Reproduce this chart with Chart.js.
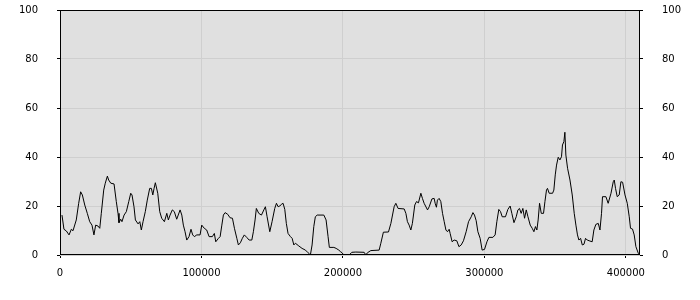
<!DOCTYPE html>
<html>
<head>
<meta charset="utf-8">
<script src="https://cdn.jsdelivr.net/npm/chart.js@4/dist/chart.umd.min.js"></script>
<style>
html,body{margin:0;padding:0;background:#fff;}
#wrap{width:700px;height:300px;}
</style>
</head>
<body>
<div id="wrap"><canvas id="c" width="700" height="300"></canvas></div>
<script>
const positions = [
  1400,2800,4500,6400,8000,9200,11500,13200,14600,15800,
  17500,19300,21000,22600,24000,25200,26900,28100,29200,30900,
  32000,33500,34400,35900,38200,39800,41000,41700,42900,43800,
  45300,46900,48600,50000,50900,52300,53300,55200,56400,57500,
  58700,60300,61700,63400,64600,65600,66500,67400,
  69100,70500,71900,73800,75500,76600,77800,79400,80800,82500,
  84900,86100,87200,88400,89600,91200,92600,93800,95000,96700,
  99000,100200,102000,103700,105400,107700,109100,110100,112000,113200,
  114400,115500,116700,118600,120200,121900,123300,125000,126100,127500,
  128900,130300,132000,133700,135600,136700,137900,
  138800,140500,142400,144100,145200,146400,148300,149900,151800,153000,
  154200,155400,156500,157700,158900,160000,161200,162900,164100,165300,
  166400,168800,171100,173500,175400,177000,178200,179400,180500,181800,
  186500,188100,189500,190400,193600,195200,197100,198200,199400,200600,
  203000,204400,
  206300,209100,215000,216200,217300,219700,225600,226800,228600,232200,
  233900,236200,237400,239000,243300,244500,245600,246800,248000,249100,
  250800,252000,253400,255100,256200,257400,259800,261000,262900,264500,
  265200,266100,266800,268000,269200,270400,271600,272800,273900,275100,
  275800,277200,278600,280500,282000,283600,285200,287100,288800,290700,
  291900,293000,294200,295400,297000,298400,300100,301800,303200,306000,
  307600,308800,310200,311400,312600,314900,316600,318200,319400,320900,
  322500,323700,324800,326000,327200,328400,329600,330800,332400,333800,
  335000,336100,337100,338000,339000,340200,341800,
  342800,343900,344600,345800,348200,349100,350100,351000,352200,353400,
  354500,355200,356200,356900,357600,358800,360500,362100,363500,364700,
  365800,366800,368000,369200,370400,371500,372700,374600,376200,377400,
  378800,380500,381700,382800,383500,385900,387500,389500,391100,391800,
  392700,393900,395300,396500,397700,399400,401000,402400,403300,404700,
  405900,407100,408800,409500
];
const values = [
  16.3,10.5,9.8,8.2,10.5,9.9,14.3,21.1,25.8,24.5,
  20.4,17,13.6,12.2,8.2,12.2,11.8,10.9,17,26.5,
  29.3,32.2,30.6,29.3,29,21.8,17,13.2,14.6,13.6,
  16.3,17.7,21.8,25.2,24.5,19.7,14.3,12.7,13.6,10.2,
  13.6,17.7,22.4,27.2,27.2,24.5,27.2,29.5,
  25.2,17.7,15,13.6,17,14.3,16.3,18.4,17.7,14.6,
  18.4,16.3,12.2,9.5,6.1,7.5,10.5,8.2,7.5,8.2,
  8.2,12.2,10.9,10.2,7.5,7.5,8.8,5.4,6.8,7.5,
  12.2,16.3,17.3,16.6,15.2,15,10.9,6.8,4.1,5.0,
  6.8,8.2,7.2,6.1,6.1,9.5,14.3,
  19,17,16.3,18.4,19.7,15.6,9.5,13.6,19,21.1,
  19.7,20,20.7,21.1,18.6,12.9,8.8,7.5,6.8,4.1,
  4.8,3.7,2.7,2.0,0.9,0,4.1,11.6,15.6,16.3,
  16.3,14.3,7.5,3.1,3.1,2.7,2.0,1.4,0.9,0,
  0,0,
  1.1,1.2,1.1,0,0.9,1.8,2.0,4.8,9.3,9.4,
  12.9,19.7,21.1,19,18.8,17,13.6,12.2,10.2,12.9,
  20.4,21.8,21.3,25.2,23.1,21.1,18.4,19.7,22.9,23.1,
  21.1,19.5,22.4,23.1,21.8,17,13.6,10.2,9.5,10.5,
  8.8,5.4,6.1,5.8,3.4,4.1,5.8,9.5,13.6,15.6,
  17.3,16.3,14,9.5,6.8,2.0,2.3,5.4,7.2,7.2,
  8.2,13.6,18.6,17.7,15.6,15.6,18.6,20,17,13.2,
  15.6,18.4,19,17,19,15,18.4,15.6,12.2,10.9,
  9.5,11.6,10.2,14.3,21.1,17,17,
  21.8,26.5,27.2,25.2,25.2,26.5,32.7,36.7,39.9,38.8,
  40.1,44.9,46.3,50.1,40.8,35.4,30.6,24.5,17,12.2,
  8.2,6.1,6.8,4.1,4.4,6.8,6.1,5.7,5.4,10.2,
  12.5,12.9,10.2,17,23.8,23.8,21.1,25.2,29.9,30.6,
  27.2,23.8,24.5,29.9,29.7,24.5,21.1,15.6,10.9,10.6,
  8.2,3.4,0.7,0
];
const xTicks = [0, 100000, 200000, 300000, 400000];
const yTicks = [0, 20, 40, 60, 80, 100];

const points = positions.map((x, i) => ({x: x, y: values[i]}));

const plotBg = {
  id: 'plotBg',
  beforeDraw(chart) {
    const {ctx, chartArea: a} = chart;
    ctx.save();
    ctx.fillStyle = '#e0e0e0';
    ctx.fillRect(a.left, a.top, a.right - a.left, a.bottom - a.top);
    ctx.restore();
  },
  afterDraw(chart) {
    const {ctx, chartArea: a} = chart;
    ctx.save();
    ctx.strokeStyle = '#000';
    ctx.lineWidth = 1;
    ctx.strokeRect(Math.round(a.left) + 0.5, Math.round(a.top) + 0.5, Math.round(a.right - a.left) - 1, Math.round(a.bottom - a.top) - 1);
    ctx.restore();
  }
};

const font = {family: 'DejaVu Sans', size: 10};
const yAxisCommon = {
  min: 0, max: 100,
  afterBuildTicks(s) { s.ticks = yTicks.map(v => ({value: v})); },
  ticks: {font: font, color: '#000', padding: 19, crossAlign: 'near', callback: v => String(v)},
  border: {display: false},
};

new Chart(document.getElementById('c'), {
  type: 'line',
  data: {
    datasets: [{
      data: points,
      borderColor: '#000',
      borderWidth: 1,
      pointRadius: 0,
      tension: 0,
      fill: false
    }]
  },
  options: {
    responsive: false,
    devicePixelRatio: 1,
    animation: false,
    layout: {padding: {top: 10, left: 0, right: 0, bottom: 0}},
    plugins: {legend: {display: false}, tooltip: {enabled: false}},
    scales: {
      x: {
        type: 'linear', min: 0, max: 410000,
        afterBuildTicks(s) { s.ticks = xTicks.map(v => ({value: v})); },
        afterFit(s) { s.height = 45; },
        ticks: {font: font, color: '#000', padding: 9, maxRotation: 0, callback: v => String(v)},
        grid: {color: '#cfcfcf', tickColor: '#000', tickLength: 3},
        border: {display: false}
      },
      y: Object.assign({}, yAxisCommon, {
        position: 'left',
        afterFit(s) { s.width = 60; s.paddingTop = 0; s.paddingBottom = 0; },
        grid: {color: '#cfcfcf', tickColor: '#000', tickLength: 3}
      }),
      y2: Object.assign({}, yAxisCommon, {
        position: 'right',
        afterFit(s) { s.width = 60; s.paddingTop = 0; s.paddingBottom = 0; },
        grid: {drawOnChartArea: false, tickColor: '#000', tickLength: 3}
      })
    }
  },
  plugins: [plotBg]
});
</script>
</body>
</html>
